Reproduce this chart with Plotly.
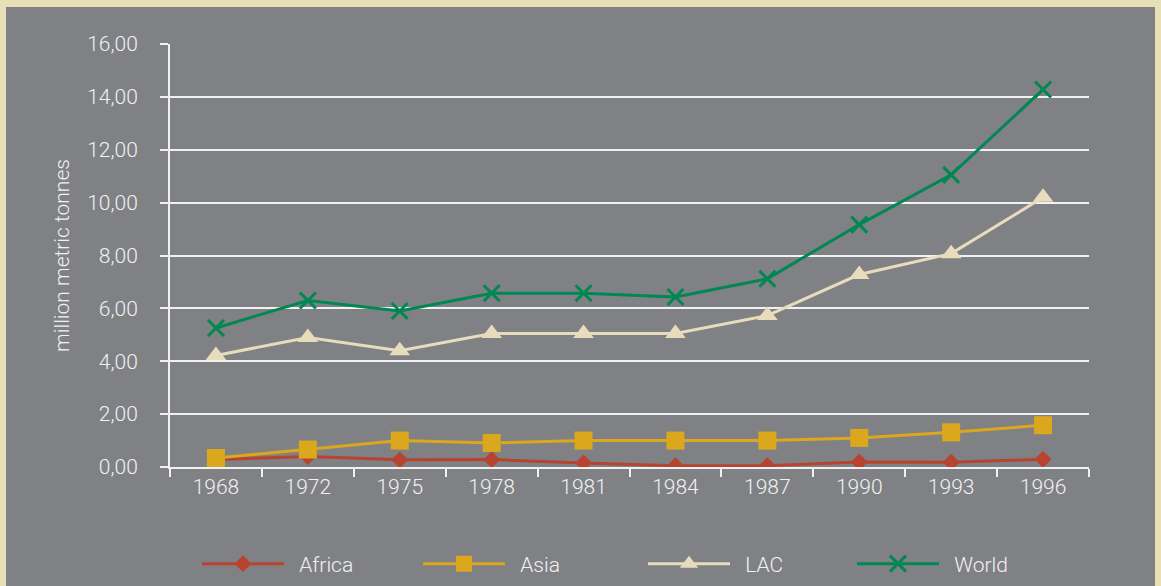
import plotly.graph_objects as go

# Production series, million metric tonnes
years = ["1968", "1972", "1975", "1978", "1981", "1984", "1987", "1990", "1993", "1996"]
africa = [0.28, 0.40, 0.27, 0.28, 0.15, 0.05, 0.05, 0.19, 0.18, 0.29]
asia = [0.34, 0.66, 1.00, 0.91, 1.00, 1.00, 1.00, 1.10, 1.31, 1.58]
lac = [4.22, 4.90, 4.40, 5.05, 5.05, 5.05, 5.73, 7.28, 8.07, 10.20]
world = [5.26, 6.30, 5.90, 6.57, 6.57, 6.43, 7.12, 9.17, 11.05, 14.28]

y_ticks = [0, 2, 4, 6, 8, 10, 12, 14, 16]
y_tick_text = ["0,00", "2,00", "4,00", "6,00", "8,00", "10,00", "12,00", "14,00", "16,00"]

TEXT = "#f1f1f1"
PANEL = "#808185"
FONT = "Roboto"
FS = 21
NB = "\u00a0\u00a0"  # small gap between legend line and label

# plot area in pixels
L, R, T, B = 170, 72, 44, 119
W, H = 1161, 586
PW, PH = W - L - R, H - T - B

series = [
    ("Africa", africa, "#b8432f", dict(symbol="diamond", size=13), 202),
    ("Asia", asia, "#daa71d", dict(symbol="square", size=18), 423),
    ("LAC", lac, "#e7dcbb", dict(symbol="triangle-up", size=18), 648),
    ("World", world, "#008752", dict(symbol="x-thin", size=16), 857),
]

fig = go.Figure()
legends = {}
for i, (name, vals, color, mk, lx) in enumerate(series):
    marker = dict(color=color, **mk)
    if mk["symbol"] == "x-thin":
        marker["line"] = dict(color=color, width=3)
    lg = "legend" if i == 0 else f"legend{i + 1}"
    fig.add_trace(go.Scatter(
        x=years, y=vals, name=NB + name, mode="lines+markers",
        line=dict(color=color, width=3),
        marker=marker, legend=lg,
    ))
    legends[lg] = dict(
        orientation="h", xref="container", yref="container",
        x=(lx - 5) / W, xanchor="left",
        y=1 - 564 / H, yanchor="middle",
        bgcolor="rgba(0,0,0,0)",
        font=dict(size=FS, color=TEXT, family=FONT, weight=300),
        itemwidth=82, itemclick=False,
    )

# grey panel behind the chart
fig.add_shape(type="rect", xref="paper", yref="paper",
              x0=(6 - L) / PW, x1=(1155 - L) / PW, y0=-0.4, y1=(H - B - 7) / PH,
              fillcolor=PANEL, line=dict(width=0), layer="below")

fig.update_layout(
    width=W, height=H,
    margin=dict(l=L, r=R, t=T, b=B),
    paper_bgcolor="#e9dfb6",
    plot_bgcolor=PANEL,
    font=dict(family=FONT, color=TEXT, size=FS, weight=300),
    showlegend=True,
    xaxis=dict(
        type="category", range=[-0.5, 9.5], automargin=False,
        showgrid=False, showline=True, linecolor=TEXT, linewidth=2,
        ticks="outside", tickson="boundaries", ticklen=8, tickwidth=2,
        tickcolor=TEXT, tickfont=dict(size=FS, color=TEXT),
        zeroline=False,
    ),
    yaxis=dict(
        range=[0, 16], tickvals=y_ticks, ticktext=y_tick_text, automargin=False,
        showgrid=True, gridcolor=TEXT, gridwidth=2,
        showline=True, linecolor=TEXT, linewidth=2,
        ticks="outside", ticklen=8, tickwidth=2, tickcolor=TEXT,
        ticklabelstandoff=18,
        tickfont=dict(size=FS, color=TEXT),
        zeroline=False,
        title=dict(text="million metric tonnes", standoff=12,
                   font=dict(size=21, color=TEXT)),
    ),
    **legends,
)

fig.write_html("out.html")
